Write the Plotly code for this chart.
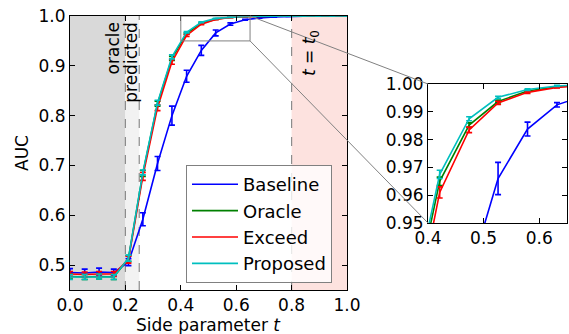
import plotly.graph_objects as go

# ---------------- data ----------------
t_vals = [0.0, 0.053, 0.105, 0.158, 0.211, 0.263, 0.316, 0.368, 0.421, 0.474,
          0.526, 0.579, 0.632, 0.684, 0.737, 0.789, 0.842, 0.895, 0.947, 1.0]

baseline = [0.485, 0.484, 0.486, 0.485, 0.506, 0.592, 0.704, 0.800, 0.879, 0.931,
            0.966, 0.9838, 0.9925, 0.996, 0.998, 0.9992, 0.9996, 0.9998, 0.9999, 1.0]
baseline_err = [0.008, 0.008, 0.008, 0.007, 0.007, 0.013, 0.014, 0.019, 0.012, 0.010,
                0.0058, 0.0025, 0.0008, 0.0006, 0.0004, 0.0003, 0.0002, 0.0001, 0.0001, 0.0]

oracle = [0.477, 0.476, 0.477, 0.476, 0.513, 0.684, 0.824, 0.915, 0.965, 0.9852,
          0.9937, 0.9975, 0.9990, 0.9996, 0.9998, 0.9999, 1.0, 1.0, 1.0, 1.0]
oracle_err = [0.005, 0.005, 0.005, 0.005, 0.006, 0.006, 0.005, 0.004, 0.0015, 0.0008,
              0.0005, 0.0003, 0.0002, 0.0001, 0.0001, 0.0, 0.0, 0.0, 0.0, 0.0]

exceed = [0.482, 0.481, 0.482, 0.482, 0.511, 0.678, 0.816, 0.908, 0.961, 0.9835,
          0.9932, 0.9970, 0.9988, 0.9995, 0.9998, 0.9999, 1.0, 1.0, 1.0, 1.0]
exceed_err = [0.005, 0.005, 0.005, 0.005, 0.007, 0.008, 0.006, 0.005, 0.002, 0.001,
              0.0006, 0.0004, 0.0002, 0.0001, 0.0001, 0.0, 0.0, 0.0, 0.0, 0.0]

proposed = [0.476, 0.476, 0.477, 0.476, 0.514, 0.686, 0.826, 0.918, 0.9675, 0.9875,
            0.9952, 0.9980, 0.9993, 0.9997, 0.9999, 1.0, 1.0, 1.0, 1.0, 1.0]
proposed_err = [0.005, 0.005, 0.005, 0.005, 0.006, 0.005, 0.005, 0.004, 0.0015, 0.0007,
                0.0004, 0.0003, 0.0002, 0.0001, 0.0001, 0.0, 0.0, 0.0, 0.0, 0.0]

series_names = ["Baseline", "Oracle", "Exceed", "Proposed"]
series_vals = [baseline, oracle, exceed, proposed]
series_errs = [baseline_err, oracle_err, exceed_err, proposed_err]
series_colors = ["#0000ff", "#008000", "#ff0000", "#00bfbf"]

main_xticks = [0.0, 0.2, 0.4, 0.6, 0.8, 1.0]
main_yticks = [0.5, 0.6, 0.7, 0.8, 0.9, 1.0]
inset_xticks = [0.4, 0.5, 0.6]
inset_yticks = [0.95, 0.96, 0.97, 0.98, 0.99, 1.00]

oracle_t = 0.2
predicted_t = 0.25
t0 = 0.8

# ---------------- layout geometry ----------------
W, H = 569, 334
FONT = "DejaVu Sans"
main_xdom = [70 / W, 347 / W]
main_ydom = [(H - 290) / H, (H - 16) / H]
main_xr = [0.0, 1.0]
main_yr = [0.45, 1.0]
ins_xdom = [428 / W, 567 / W]
ins_ydom = [(H - 223) / H, (H - 84) / H]
ins_xr = [0.4, 0.65]
ins_yr = [0.95, 1.0]


def to_paper(v, dom, rng):
    return dom[0] + (v - rng[0]) / (rng[1] - rng[0]) * (dom[1] - dom[0])


fig = go.Figure()

for name, vals, errs, col in zip(series_names, series_vals, series_errs, series_colors):
    fig.add_trace(go.Scatter(
        x=t_vals, y=vals, name=name, mode="lines",
        line=dict(color=col, width=1.6),
        error_y=dict(type="data", array=errs, visible=True, color=col,
                     thickness=1.6, width=3),
        xaxis="x", yaxis="y", legendgroup=name,
    ))
for name, vals, errs, col in zip(series_names, series_vals, series_errs, series_colors):
    fig.add_trace(go.Scatter(
        x=t_vals, y=vals, name=name, mode="lines", showlegend=False,
        line=dict(color=col, width=1.6),
        error_y=dict(type="data", array=errs, visible=True, color=col,
                     thickness=1.6, width=3),
        xaxis="x2", yaxis="y2",
    ))

shapes = [
    dict(type="rect", xref="x", yref="y domain", x0=0.0, x1=oracle_t, y0=0, y1=1,
         fillcolor="#d9d9d9", line=dict(width=0), layer="below"),
    dict(type="rect", xref="x", yref="y domain", x0=oracle_t, x1=predicted_t, y0=0, y1=1,
         fillcolor="#f2f2f2", line=dict(width=0), layer="below"),
    dict(type="rect", xref="x", yref="y domain", x0=t0, x1=1.0, y0=0, y1=1,
         fillcolor="#fde2df", line=dict(width=0), layer="below"),
]
for xv in [oracle_t, predicted_t, t0]:
    shapes.append(dict(type="line", xref="x", yref="y domain", x0=xv, x1=xv, y0=0, y1=1,
                       line=dict(color="#8c8c8c", width=1.2, dash="dash"), layer="below"))
# zoom rectangle
shapes.append(dict(type="rect", xref="x", yref="y", x0=ins_xr[0], x1=ins_xr[1],
                   y0=ins_yr[0], y1=ins_yr[1], line=dict(color="#808080", width=1)))
# connectors
for yv in [ins_yr[1], ins_yr[0]]:
    shapes.append(dict(type="line", xref="paper", yref="paper",
                       x0=to_paper(ins_xr[1], main_xdom, main_xr),
                       y0=to_paper(yv, main_ydom, main_yr),
                       x1=to_paper(ins_xr[0], ins_xdom, ins_xr),
                       y1=to_paper(yv, ins_ydom, ins_yr),
                       line=dict(color="#808080", width=1)))

annotations = [
    dict(text="oracle", xref="x", yref="y", x=oracle_t, y=1.0, xanchor="right",
         yanchor="top", textangle=-90, showarrow=False, xshift=0, yshift=-4,
         font=dict(family=FONT, size=17, color="black")),
    dict(text="predicted", xref="x", yref="y", x=predicted_t, y=1.0, xanchor="right",
         yanchor="top", textangle=-90, showarrow=False, xshift=3, yshift=-4,
         font=dict(family=FONT, size=17, color="black")),
    dict(text="<i>t</i> = <i>t</i><sub>0</sub>", xref="x", yref="y", x=t0, y=1.0,
         xanchor="left", yanchor="top", textangle=-90, showarrow=False, xshift=5,
         yshift=-12, font=dict(family=FONT, size=17, color="black")),
    dict(text="AUC", xref="paper", yref="paper", x=22 / W,
         y=to_paper(0.725, main_ydom, main_yr), xanchor="center", yanchor="middle",
         textangle=-90, showarrow=False, font=dict(family=FONT, size=17, color="black")),
    dict(text="Side parameter <i>t</i>", xref="paper", yref="paper",
         x=sum(main_xdom) / 2, y=(H - 325) / H, xanchor="center", yanchor="middle",
         showarrow=False, font=dict(family=FONT, size=17, color="black")),
]

axis_common = dict(showgrid=False, zeroline=False, showline=True, linecolor="black",
                   linewidth=1, mirror="allticks", ticks="inside", ticklen=5,
                   tickcolor="black", automargin=False,
                   tickfont=dict(family=FONT, size=17, color="black"))

fig.update_layout(
    width=W, height=H,
    margin=dict(l=0, r=0, t=0, b=0),
    paper_bgcolor="white", plot_bgcolor="white",
    font=dict(family=FONT, size=17, color="black"),
    xaxis=dict(domain=main_xdom, range=main_xr, tickvals=main_xticks,
               tickformat=".1f", anchor="y", **axis_common),
    yaxis=dict(domain=main_ydom, range=main_yr, tickvals=main_yticks,
               tickformat=".1f", anchor="x", **axis_common),
    xaxis2=dict(domain=ins_xdom, range=ins_xr, tickvals=inset_xticks,
                tickformat=".1f", anchor="y2", **axis_common),
    yaxis2=dict(domain=ins_ydom, range=ins_yr, tickvals=inset_yticks,
                tickformat=".2f", anchor="x2", **axis_common),
    shapes=shapes,
    annotations=annotations,
    legend=dict(x=186 / W, y=(H - 165) / H, xanchor="left", yanchor="top",
                bgcolor="rgba(255,255,255,0.8)", bordercolor="#808080", borderwidth=1,
                font=dict(family=FONT, size=18, color="black"),
                itemwidth=46, tracegroupgap=0, traceorder="grouped"),
    showlegend=True,
)

fig.write_html("out.html", config={"displayModeBar": False},
               post_script="document.body.style.margin='0px';")
